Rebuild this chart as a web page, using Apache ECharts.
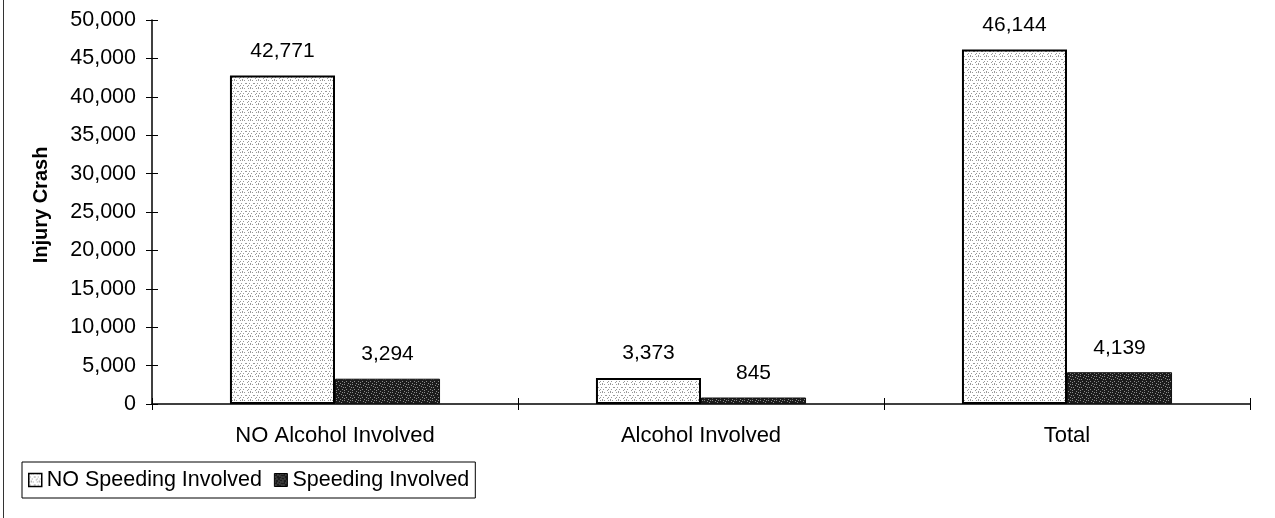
<!DOCTYPE html>
<html>
<head>
<meta charset="utf-8">
<script src="https://cdn.jsdelivr.net/npm/echarts@6/dist/echarts.min.js"></script>
<style>
html,body{margin:0;padding:0;background:#fff;}
#chart{width:1275px;height:518px;}
</style>
</head>
<body>
<div id="chart"></div>
<script>
const categories = ['NO Alcohol Involved', 'Alcohol Involved', 'Total'];
const noSpeeding = [42771, 3373, 46144];
const speeding = [3294, 845, 4139];
const seriesNames = ['NO Speeding Involved', 'Speeding Involved'];
const yTicks = { min: 0, max: 50000, interval: 5000 };

function pattern(bg, dot, cells) {
  const c = document.createElement('canvas');
  c.width = 8; c.height = 8;
  const g = c.getContext('2d');
  g.fillStyle = bg; g.fillRect(0, 0, 8, 8);
  g.fillStyle = dot;
  cells.forEach(p => g.fillRect(p[0], p[1], 1, 1));
  return { image: c, repeat: 'repeat' };
}
const lightFill = pattern('#ffffff', '#9a9a9a', [[0,0],[2,0],[4,0],[1,3],[5,3],[6,3],[0,5],[3,5],[7,6],[2,7]]);
const darkFill = pattern('#1c1c1c', '#8a8a8a', [[0,0],[3,1],[6,0],[1,3],[5,2],[2,5],[6,5],[4,7],[0,6],[7,3]]);

const fmt = v => Number(v).toLocaleString('en-US');
const font = 'Liberation Sans, Arial, sans-serif';

const chart = echarts.init(document.getElementById('chart'));
chart.setOption({
  backgroundColor: '#ffffff',
  animation: false,
  grid: { left: 152, right: 25, top: 20, bottom: 114, containLabel: false },
  legend: {
    left: 22, top: 462,
    padding: [7, 6, 7, 6],
    itemGap: 12,
    itemWidth: 13, itemHeight: 13,
    borderColor: '#000', borderWidth: 1,
    textStyle: { fontFamily: font, fontSize: 21.5, color: '#000' },
    data: [
      { name: seriesNames[0], icon: 'rect', itemStyle: { borderColor: '#000', borderWidth: 1.5 } },
      { name: seriesNames[1], icon: 'rect', itemStyle: { borderColor: '#000', borderWidth: 1 } }
    ]
  },
  xAxis: [
    {
      type: 'category', data: categories,
      axisLine: { lineStyle: { color: '#000', width: 1.5 } },
      axisTick: { show: true, length: 6, lineStyle: { color: '#000' } },
      axisLabel: { fontFamily: font, fontSize: 22, color: '#000', margin: 21 }
    },
    {
      type: 'category', data: categories, position: 'bottom', gridIndex: 0,
      axisLine: { show: false },
      axisTick: { show: true, inside: true, length: 6, lineStyle: { color: '#000' } },
      axisLabel: { show: false }
    }
  ],
  yAxis: [
    {
      type: 'value', min: yTicks.min, max: yTicks.max, interval: yTicks.interval,
      axisLine: { show: true, lineStyle: { color: '#000', width: 1.5 } },
      axisTick: { show: true, length: 6, lineStyle: { color: '#000' } },
      splitLine: { show: false },
      axisLabel: { fontFamily: font, fontSize: 21.5, color: '#000', margin: 16, formatter: fmt }
    },
    {
      type: 'value', min: yTicks.min, max: yTicks.max, interval: yTicks.interval, position: 'left',
      axisLine: { show: false },
      axisTick: { show: true, inside: true, length: 6, lineStyle: { color: '#000' } },
      splitLine: { show: false },
      axisLabel: { show: false }
    }
  ],
  graphic: [
    {
      type: 'text', x: 41, y: 205, rotation: Math.PI / 2, originX: 0, originY: 0,
      style: { text: 'Injury Crash', font: 'bold 20px ' + font, fill: '#000', align: 'center', verticalAlign: 'middle' }
    },
    {
      type: 'line', shape: { x1: 3.5, y1: 0, x2: 3.5, y2: 518 },
      style: { stroke: '#333', lineWidth: 1 }
    }
  ],
  series: [
    {
      name: seriesNames[0], type: 'bar', data: noSpeeding,
      barGap: '0%', barCategoryGap: '42.6%',
      itemStyle: { color: lightFill, borderColor: '#000', borderWidth: 2 },
      label: { show: true, position: 'top', distance: 14, fontFamily: font, fontSize: 21, color: '#000', formatter: p => fmt(p.value) }
    },
    {
      name: seriesNames[1], type: 'bar', data: speeding,
      itemStyle: { color: darkFill, borderColor: '#111', borderWidth: 1 },
      label: { show: true, position: 'top', distance: 14, fontFamily: font, fontSize: 21, color: '#000', formatter: p => fmt(p.value) }
    }
  ]
});
</script>
</body>
</html>
